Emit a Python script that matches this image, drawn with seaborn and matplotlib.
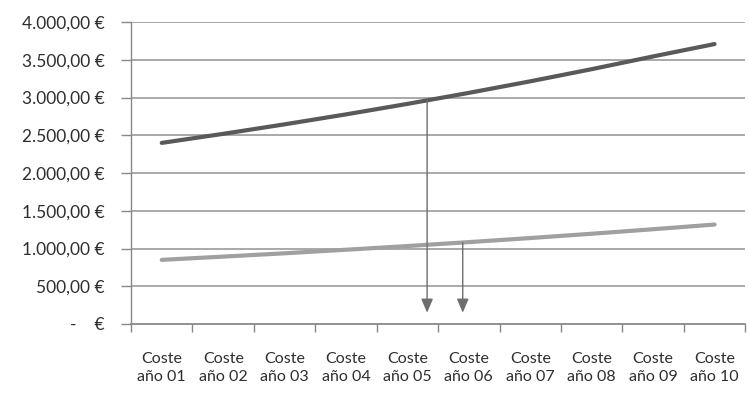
import numpy as np
import pandas as pd
import matplotlib
matplotlib.use("Agg")
import matplotlib.pyplot as plt
import seaborn as sns

categories = [f"Coste\naño {i:02d}" for i in range(1, 11)]
coste_alto = [2400, 2520, 2646, 2778, 2917, 3063, 3216, 3377, 3546, 3710]
coste_bajo = [850, 893, 937, 984, 1033, 1085, 1139, 1196, 1256, 1318]
y_ticks = [0, 500, 1000, 1500, 2000, 2500, 3000, 3500, 4000]
y_labels = ["-    €", "500,00 €", "1.000,00 €", "1.500,00 €", "2.000,00 €",
            "2.500,00 €", "3.000,00 €", "3.500,00 €", "4.000,00 €"]
arrow_x = [4.32, 4.9]
arrow_end = 150

sns.set_theme(style="white")
plt.rcParams["font.family"] = ["Lato", "DejaVu Sans"]

idx = np.arange(len(categories))
df = pd.DataFrame({
    "pos": np.concatenate([idx, idx]),
    "valor": coste_alto + coste_bajo,
    "serie": ["alto"] * len(idx) + ["bajo"] * len(idx),
})

fig = plt.figure(figsize=(7.49, 3.93), dpi=100)
ax = fig.add_axes([0.175, 0.1756, 0.82, 0.768])

for yv in y_ticks[1:]:
    ax.axhline(yv, color="#a3a3a3", lw=1.3, zorder=0)

sns.lineplot(data=df, x="pos", y="valor", hue="serie",
             palette={"alto": "#595959", "bajo": "#a0a0a0"},
             linewidth=3, legend=False, ax=ax, zorder=3)

# Arrows dropping from each curve to the axis
for xa, serie in zip(arrow_x, [coste_alto, coste_bajo]):
    y0 = np.interp(xa, idx, serie)
    ax.annotate("", xy=(xa, arrow_end), xytext=(xa, y0),
                arrowprops=dict(arrowstyle="-|>,head_length=0.7,head_width=0.3",
                                color="#6e6e6e", lw=1.0, shrinkA=0, shrinkB=0),
                zorder=4)

ax.set_xlim(-0.5, 9.5)
ax.set_ylim(0, 4000)
ax.set_yticks(y_ticks)
ax.set_yticklabels(y_labels)
ax.set_xticks(idx)
ax.set_xticklabels(categories, linespacing=1.4)
ax.set_xticks(np.arange(-0.5, 10, 1), minor=True)
ax.tick_params(axis="x", which="major", length=0, pad=20, labelsize=11.5, colors="#2e2e2e")
ax.tick_params(axis="x", which="minor", length=6, width=1, color="#888888", direction="out", bottom=True)
ax.tick_params(axis="y", length=7, width=1, color="#888888", direction="out", left=True,
               pad=12, labelsize=12.5, labelcolor="#2e2e2e")
ax.set_xlabel("")
ax.set_ylabel("")

for s in ["top", "right"]:
    ax.spines[s].set_visible(False)
ax.spines["left"].set_color("#888888")
ax.spines["bottom"].set_color("#888888")
ax.spines["left"].set_linewidth(1)
ax.spines["bottom"].set_linewidth(1.3)

fig.savefig("out.png", dpi=100, facecolor="white")
